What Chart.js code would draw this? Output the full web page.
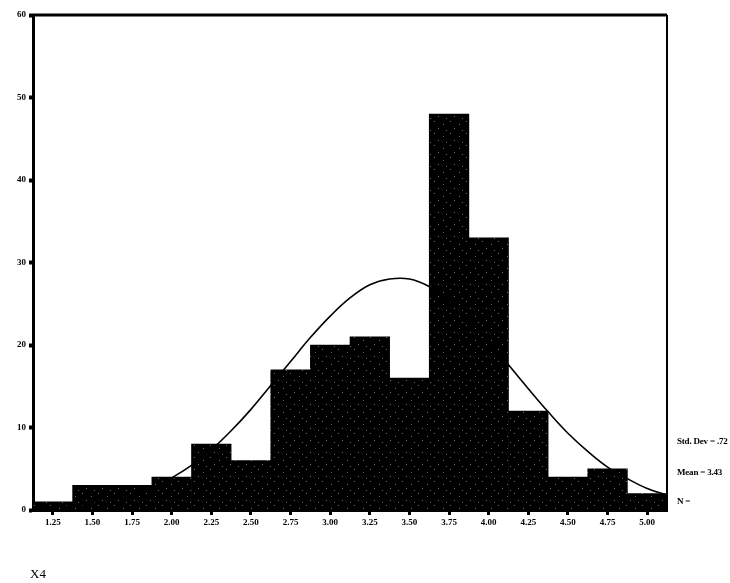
<!DOCTYPE html>
<html lang="en">
<head>
  <meta charset="UTF-8" />
  <title>X4 histogram</title>
  <script src="https://cdn.jsdelivr.net/npm/chart.js"></script>
  <style>
    body { margin: 0; background: #fff; }
    #wrap { position: relative; width: 730px; height: 583px; }
    .note { position: absolute; font-family: "Liberation Serif", serif; font-weight: bold; font-size: 9px; letter-spacing: -0.2px; color: #000; white-space: nowrap; }
    #title { position: absolute; left: 30px; top: 566px; font-family: "Liberation Serif", serif; font-size: 13px; }
  </style>
</head>
<body>
  <div id="wrap">
    <canvas id="hist" width="730" height="583"></canvas>
    <div class="note" style="left:677px; top:436px;">Std. Dev = .72</div>
    <div class="note" style="left:677px; top:467px;">Mean = 3.43</div>
    <div class="note" style="left:677px; top:496px;">N =</div>
    <div id="title">X4</div>
  </div>

  <script>
    // bin centres and counts
    const binCenters = [1.25, 1.50, 1.75, 2.00, 2.25, 2.50, 2.75, 3.00, 3.25, 3.50, 3.75, 4.00, 4.25, 4.50, 4.75, 5.00];
    const counts     = [1, 3, 3, 4, 8, 6, 17, 20, 21, 16, 48, 33, 12, 4, 5, 2];

    // normal curve (mean 3.43, sd .72)
    const curveX = [1.125, 1.25, 1.375, 1.5, 1.625, 1.75, 1.875, 2.0, 2.125, 2.25, 2.375, 2.5, 2.625, 2.75, 2.875, 3.0, 3.125,
                    3.25, 3.375, 3.5, 3.625, 3.75, 3.875, 4.0, 4.125, 4.25, 4.375, 4.5, 4.625, 4.75, 4.875, 5.0, 5.125];
    const curveY = [0.2, 0.3, 0.5, 0.8, 1.2, 1.9, 2.7, 3.9, 5.4, 7.3, 9.6, 12.2, 15.1, 18.0, 20.9, 23.5, 25.7,
                    27.3, 28.0, 28.0, 27.1, 25.5, 23.2, 20.6, 17.6, 14.7, 11.9, 9.3, 7.1, 5.2, 3.8, 2.6, 1.8];

    const xTicks = [1.25, 1.50, 1.75, 2.00, 2.25, 2.50, 2.75, 3.00, 3.25, 3.50, 3.75, 4.00, 4.25, 4.50, 4.75, 5.00];
    const yTicks = [0, 10, 20, 30, 40, 50, 60];

    // mostly black fill with a few light specks, like the scanned bars
    function speckle() {
      const c = document.createElement('canvas');
      c.width = 16; c.height = 12;
      const g = c.getContext('2d');
      g.fillStyle = '#000';
      g.fillRect(0, 0, 16, 12);
      g.fillStyle = '#6a6a6a';
      [[2,1],[11,4],[6,8],[14,10]].forEach(p => g.fillRect(p[0], p[1], 1, 1));
      return g.createPattern(c, 'repeat');
    }

    const frame = {
      id: 'frame',
      afterDraw(chart) {
        const a = chart.chartArea, ctx = chart.ctx;
        ctx.save();
        ctx.strokeStyle = '#000';
        ctx.lineWidth = 3;
        ctx.beginPath(); ctx.moveTo(a.left - 1, a.top); ctx.lineTo(a.right, a.top); ctx.stroke();
        ctx.lineWidth = 2;
        ctx.beginPath(); ctx.moveTo(a.right, a.top); ctx.lineTo(a.right, a.bottom); ctx.stroke();
        ctx.restore();
      }
    };

    const tickFont = { family: 'Liberation Serif', size: 9, weight: 'bold' };

    new Chart(document.getElementById('hist'), {
      data: {
        datasets: [
          {
            type: 'line',
            data: curveX.map((x, i) => ({ x: x, y: curveY[i] })),
            borderColor: '#000',
            borderWidth: 1.6,
            pointRadius: 0,
            tension: 0.4,
            order: 0
          },
          {
            type: 'bar',
            data: binCenters.map((x, i) => ({ x: x, y: counts[i] })),
            backgroundColor: speckle(),
            borderWidth: 0,
            barPercentage: 1,
            categoryPercentage: 1,
            order: 1
          }
        ]
      },
      options: {
        responsive: false,
        animation: false,
        layout: { padding: { top: 15, right: 63, bottom: 43, left: 0 } },
        plugins: { legend: { display: false }, tooltip: { enabled: false } },
        scales: {
          x: {
            type: 'linear',
            min: 1.125,
            max: 5.125,
            offset: false,
            afterBuildTicks: s => { s.ticks = xTicks.map(v => ({ value: v })); },
            afterFit: s => { s.height = 30; },
            grid: { offset: false, drawOnChartArea: false, color: '#000', tickLength: 5, tickWidth: 3 },
            border: { color: '#000', width: 3 },
            ticks: { color: '#000', font: tickFont, padding: 2, maxRotation: 0, autoSkip: false,
                     callback: v => v.toFixed(2) }
          },
          y: {
            min: 0,
            max: 60,
            afterBuildTicks: s => { s.ticks = yTicks.map(v => ({ value: v })); },
            afterFit: s => { s.width = 33; },
            grid: { drawOnChartArea: false, color: '#000', tickLength: 4, tickWidth: 4 },
            border: { color: '#000', width: 3 },
            ticks: { color: '#000', font: tickFont, padding: 3 }
          }
        }
      },
      plugins: [frame]
    });
  </script>
</body>
</html>
